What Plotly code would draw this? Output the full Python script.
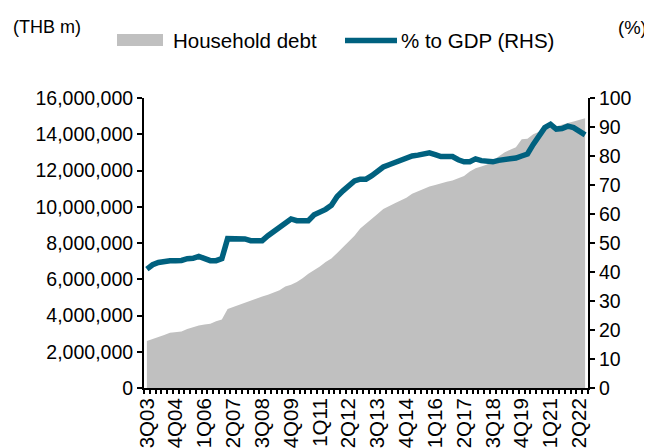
import plotly.graph_objects as go

# quarterly categories 3Q03 .. 3Q22
quarters = [f"{q}Q{y % 100:02d}" for y in range(2003, 2023) for q in range(1, 5)]
quarters = quarters[quarters.index("3Q03"):quarters.index("3Q22") + 1]

# household debt, THB m
household_debt = [
    2600000, 2700000, 2800000, 2920000, 3050000, 3100000, 3120000, 3250000, 3350000, 3450000,
    3500000, 3550000, 3680000, 3780000, 4360000, 4480000, 4600000, 4720000, 4830000, 4950000,
    5050000, 5150000, 5280000, 5400000, 5600000, 5700000, 5850000, 6050000, 6300000, 6500000,
    6700000, 6950000, 7150000, 7450000, 7750000, 8050000, 8400000, 8800000, 9050000, 9350000,
    9600000, 9880000, 10020000, 10200000, 10350000, 10500000, 10720000, 10850000, 11000000, 11120000,
    11200000, 11300000, 11380000, 11450000, 11580000, 11700000, 11950000, 12120000, 12220000, 12330000,
    12550000, 12800000, 13000000, 13150000, 13280000, 13720000, 13750000, 14000000, 14150000, 14280000,
    14350000, 14450000, 14550000, 14620000, 14700000, 14800000, 14880000,
]

# household debt to GDP, %
debt_to_gdp = [
    41.0, 42.5, 43.3, 43.8, 43.9, 43.9, 44.0, 44.6, 44.7, 45.4,
    44.7, 43.9, 43.9, 44.6, 51.5, 51.6, 51.6, 51.4, 50.8, 50.8,
    50.8, 52.5, 54.0, 55.7, 57.2, 58.3, 57.7, 57.7, 57.7, 59.7,
    60.5, 61.6, 63.0, 66.0, 68.0, 70.0, 71.4, 72.0, 72.0, 73.2,
    74.7, 76.2, 77.0, 77.8, 78.4, 79.7, 80.0, 80.3, 80.6, 81.1,
    80.5, 79.8, 79.8, 79.8, 78.7, 78.0, 78.0, 79.0, 78.4, 78.0,
    78.0, 78.5, 78.8, 78.8, 79.3, 80.0, 80.7, 84.0, 87.3, 89.8,
    90.9, 89.3, 89.5, 90.3, 89.8, 88.5, 87.3,
]

tick_text = [q if i % 5 == 0 else "" for i, q in enumerate(quarters)]

FONT = "Liberation Sans, Arial, sans-serif"
GREY = "#C0C0C0"
TEAL = "#00617F"

# the page body has an 8px margin, so the figure sits at (8, 8) in the window
OFF = 8
W, H = 652 - OFF, 448 - OFF
L, R, T, B = 144 - OFF, 64, 98 - OFF, 60


def px(x, y):
    # window pixel position -> paper coords
    x, y = x - OFF, y - OFF
    return (x - L) / (W - L - R), (H - B - y) / (H - T - B)


fig = go.Figure()
fig.add_trace(go.Scatter(x=quarters, y=household_debt, name="Household debt", mode="lines",
                         fill="tozeroy", fillcolor=GREY, line=dict(width=0, color=GREY),
                         showlegend=False))
fig.add_trace(go.Scatter(x=quarters, y=debt_to_gdp, name="% to GDP (RHS)", mode="lines", yaxis="y2",
                         line=dict(width=5.5, color=TEAL), showlegend=False))

# legend drawn by hand to get the long swatches
x0, y0 = px(117, 34)
x1, y1 = px(163, 46)
lx0, ly = px(345, 40.5)
lx1, _ = px(397, 40.5)
shapes = [
    dict(type="rect", xref="paper", yref="paper", x0=x0, x1=x1, y0=y1, y1=y0,
         fillcolor=GREY, line=dict(width=0)),
    dict(type="line", xref="paper", yref="paper", x0=lx0, x1=lx1, y0=ly, y1=ly,
         line=dict(color=TEAL, width=5.5)),
]

labels = [
    ("Household debt", 171, 41, "left", 20.5),
    ("% to GDP (RHS)", 399, 41, "left", 20.5),
    ("(THB m)", 11, 27, "left", 18),
    ("(%)", 649, 27, "right", 18.5),
]
annotations = []
for text, ax, ay, anchor, size in labels:
    ux, uy = px(ax, ay)
    annotations.append(dict(text=text, x=ux, y=uy, xref="paper", yref="paper", showarrow=False,
                            xanchor=anchor, yanchor="middle", font=dict(size=size)))

axis_style = dict(ticks="outside", tickwidth=1.5, tickcolor="black", showline=True,
                  linecolor="black", linewidth=2, showgrid=False, zeroline=False, automargin=False)

fig.update_layout(
    width=W, height=H,
    margin=dict(l=L, r=R, t=T, b=B, autoexpand=False),
    plot_bgcolor="white", paper_bgcolor="white",
    font=dict(family=FONT, size=19.5, color="black"),
    showlegend=False,
    xaxis=dict(type="category", range=[-0.5, len(quarters) - 0.5], tickmode="array",
               tickvals=quarters, ticktext=tick_text, tickangle=-90, tickson="boundaries",
               ticklen=4, tickfont=dict(size=20.5), **axis_style),
    yaxis=dict(range=[0, 16000000], dtick=2000000, tickformat=",d", ticklen=5, **axis_style),
    yaxis2=dict(range=[0, 100], dtick=10, overlaying="y", side="right", ticklen=5, **axis_style),
    shapes=shapes,
    annotations=annotations,
)

fig.write_html("out.html")
